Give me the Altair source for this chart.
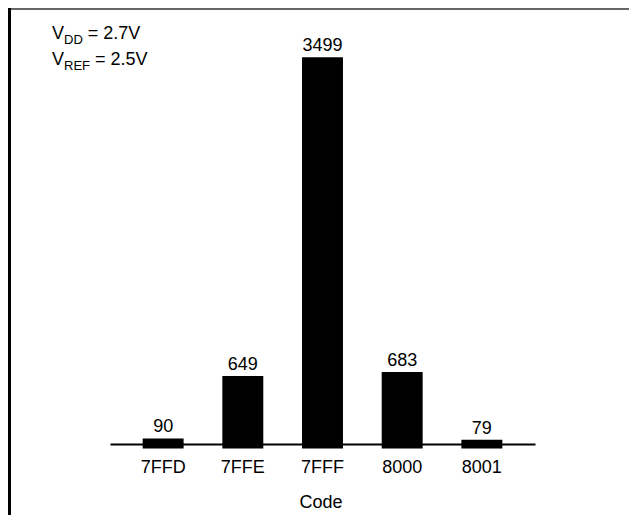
import altair as alt
import pandas as pd

codes = ["7FFD", "7FFE", "7FFF", "8000", "8001"]
counts = [90, 649, 3499, 683, 79]
x_title = "Code"
note_lines = [("V", "DD", "= 2.7V"), ("V", "REF", "= 2.5V")]

df = pd.DataFrame({"code": codes, "count": counts})
FONT = "Liberation Sans"

base = alt.Chart(df)
x_enc = alt.X("code:N", sort=codes,
              scale=alt.Scale(paddingInner=0.486, paddingOuter=0.41),
              axis=alt.Axis(title=None, ticks=False, domainColor="black", domainWidth=2,
                            labelFontSize=18, labelFont=FONT, labelColor="black",
                            labelPadding=14, labelAngle=0))
y_enc = alt.Y("count:Q", scale=alt.Scale(domain=[40, 3833], zero=False, nice=False),
              axis=None)

bars = base.mark_bar(color="black").encode(x=x_enc, y=y_enc)
labels = base.mark_text(baseline="alphabetic", dy=-6, fontSize=18, font=FONT, color="black").encode(
    x=alt.X("code:N", sort=codes), y="count:Q", text="count:Q")


def txt(t, x, y, size, align="left"):
    return alt.Chart(alt.Data(values=[{"t": t}])).mark_text(
        align=align, baseline="alphabetic", fontSize=size, font=FONT, color="black"
    ).encode(x=alt.value(x), y=alt.value(y), text="t:N")


layers = [bars, labels]
# x axis title
layers.append(txt(x_title, 211, 488, 18, align="center"))
# supply annotations
v_w = 12.0
for i, (main, sub, rest) in enumerate(note_lines):
    y0 = 19 + i * 26
    x0 = -58
    layers.append(txt(main, x0, y0, 18))
    layers.append(txt(sub, x0 + v_w, y0 + 5, 13))
    sub_w = {"DD": 18.8, "REF": 26.0}[sub]
    layers.append(txt(rest, x0 + v_w + sub_w + 5, y0, 18))

# frame lines (top and left)
frame_top = alt.Chart(alt.Data(values=[{"a": 1}])).mark_rule(color="#666", strokeWidth=2).encode(
    x=alt.value(-102), x2=alt.value(525), y=alt.value(-11))
frame_left = alt.Chart(alt.Data(values=[{"a": 1}])).mark_rule(color="black", strokeWidth=3).encode(
    x=alt.value(-100.5), y=alt.value(-12), y2=alt.value(500))
layers += [frame_top, frame_left]

chart = alt.layer(*layers).properties(
    width=425, height=424,
    autosize=alt.AutoSizeParams(type="none"),
    padding={"left": 102, "top": 12, "right": 94, "bottom": 71},
    background="white",
).configure_view(strokeOpacity=0, strokeWidth=0)

chart.save("out.html", embed_options={"renderer": "svg", "actions": False})
